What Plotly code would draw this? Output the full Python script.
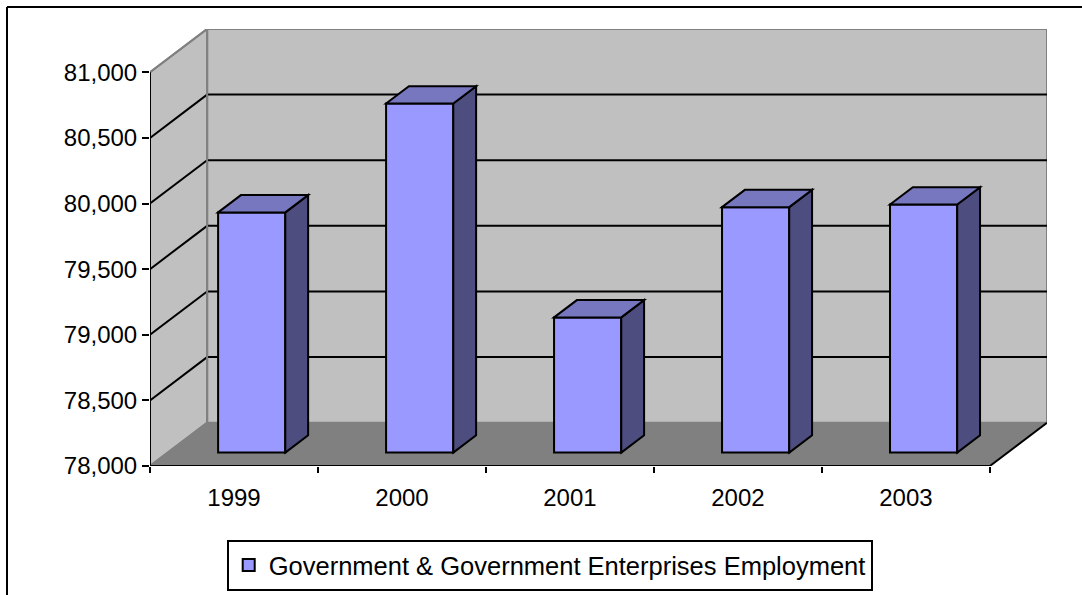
import plotly.graph_objects as go

# Annual employment, government & government enterprises
years = ["1999", "2000", "2001", "2002", "2003"]
employment = [79830, 80660, 79030, 79870, 79890]
y_ticks = [78000, 78500, 79000, 79500, 80000, 80500, 81000]
series_name = "Government & Government Enterprises Employment"

# Pseudo-3D geometry (data units)
Y_MIN, Y_MAX = 78000, 81000
DX, DY = 0.34, 330          # depth offset of the back wall
F_FRONT, F_BACK = 0.31, 0.71  # bar depth span as a fraction of the full depth
BAR_W = 0.40

FRONT = "#9999FF"
TOP = "#7777C0"
SIDE = "#4D4D80"
WALL = "#C0C0C0"
FLOOR = "#808080"
EDGE = "#808080"

W, H = 1082, 595
ML, MR, MT, MB = 150, 35, 29, 129
n = len(years)
x_lo, x_hi = -0.5, n - 0.5

shapes = []

def poly(pts, fill, line_color, width=2, layer="below"):
    path = "M " + " L ".join(f"{x},{y}" for x, y in pts) + " Z"
    shapes.append(dict(type="path", path=path, xref="x", yref="y",
                       fillcolor=fill, line=dict(color=line_color, width=width),
                       layer=layer))

def seg(x0, y0, x1, y1, color, width=2, layer="below"):
    shapes.append(dict(type="line", x0=x0, y0=y0, x1=x1, y1=y1, xref="x", yref="y",
                       line=dict(color=color, width=width), layer=layer))

# walls and floor
poly([(x_lo + DX, Y_MIN + DY), (x_hi + DX, Y_MIN + DY), (x_hi + DX, Y_MAX + DY), (x_lo + DX, Y_MAX + DY)], WALL, EDGE)
poly([(x_lo, Y_MIN), (x_lo + DX, Y_MIN + DY), (x_lo + DX, Y_MAX + DY), (x_lo, Y_MAX)], WALL, EDGE)
poly([(x_lo, Y_MIN), (x_hi, Y_MIN), (x_hi + DX, Y_MIN + DY), (x_lo + DX, Y_MIN + DY)], FLOOR, FLOOR, width=1)

# gridlines on side and back walls
for v in y_ticks[1:-1]:
    seg(x_lo, v, x_lo + DX, v + DY, "black")
    seg(x_lo + DX, v + DY, x_hi + DX, v + DY, "black")
# wall edges drawn over gridlines
seg(x_lo + DX, Y_MIN + DY, x_lo + DX, Y_MAX + DY, EDGE)
seg(x_lo, Y_MAX, x_lo + DX, Y_MAX + DY, EDGE)
seg(x_lo, Y_MIN, x_lo + DX, Y_MIN + DY, EDGE)

# front floor edge, right floor edge, value axis line
seg(x_lo, Y_MIN, x_hi, Y_MIN, "black")
seg(x_hi, Y_MIN, x_hi + DX, Y_MIN + DY, "black")
seg(x_lo, Y_MIN, x_lo, Y_MAX, "black")

# bars: front faces as a bar trace, top and side faces as shapes
fx, fy = F_FRONT * DX, F_FRONT * DY
dx, dy = (F_BACK - F_FRONT) * DX, (F_BACK - F_FRONT) * DY
base = Y_MIN + fy
for i, v in enumerate(employment):
    xl = i + fx - BAR_W / 2
    xr = i + fx + BAR_W / 2
    top = v + fy
    poly([(xr, base), (xr + dx, base + dy), (xr + dx, top + dy), (xr, top)], SIDE, "black", layer="above")
    poly([(xl, top), (xl + dx, top + dy), (xr + dx, top + dy), (xr, top)], TOP, "black", layer="above")

fig = go.Figure()
fig.add_trace(go.Bar(
    x=[i + fx for i in range(n)],
    y=[v - Y_MIN for v in employment],
    base=base,
    width=BAR_W,
    name=series_name,
    marker=dict(color=FRONT, line=dict(color="black", width=2)),
    showlegend=True,
))

# outer chart border: only the left and top edges fall inside the page
shapes.append(dict(type="line", xref="paper", yref="paper",
                   x0=(7 - ML) / (W - ML - MR), x1=(W + 5 - ML) / (W - ML - MR),
                   y0=(H - MB - 7) / (H - MT - MB), y1=(H - MB - 7) / (H - MT - MB),
                   line=dict(color="black", width=2), layer="above"))
shapes.append(dict(type="line", xref="paper", yref="paper",
                   x0=(7 - ML) / (W - ML - MR), x1=(7 - ML) / (W - ML - MR),
                   y0=(H - MB - 7) / (H - MT - MB), y1=(H - MB - H - 5) / (H - MT - MB),
                   line=dict(color="black", width=2), layer="above"))

FONT = "Arial, Liberation Sans, sans-serif"
fig.update_layout(
    width=W, height=H,
    margin=dict(l=ML, r=MR, t=MT, b=MB, autoexpand=False),
    paper_bgcolor="white", plot_bgcolor="white",
    font=dict(family=FONT, size=24, color="black"),
    shapes=shapes,
    showlegend=True,
    legend=dict(
        xref="container", yref="container",
        x=549.7 / W, xanchor="center",
        y=1 - 565.5 / H, yanchor="middle",
        bordercolor="black", borderwidth=2,
        bgcolor="white",
        font=dict(family=FONT, size=25.5, color="black"),
        itemwidth=30,
    ),
    xaxis=dict(
        range=[x_lo, x_hi + DX],
        tickmode="array", tickvals=[i for i in range(n)], ticktext=years,
        ticks="", showgrid=False, zeroline=False, showline=False,
        ticklabelstandoff=15, automargin=False,
        minor=dict(tickmode="array", tickvals=[i - 0.5 for i in range(n + 1)],
                   ticks="outside", ticklen=6, tickwidth=2, tickcolor="black", showgrid=False),
        fixedrange=True,
    ),
    yaxis=dict(
        range=[Y_MIN, Y_MAX + DY],
        tickmode="array", tickvals=y_ticks, tickformat=",d",
        ticks="outside", ticklen=7, tickwidth=2, tickcolor="black",
        showgrid=False, zeroline=False, showline=False, automargin=False,
        fixedrange=True,
    ),
)

fig.write_html("out.html")
